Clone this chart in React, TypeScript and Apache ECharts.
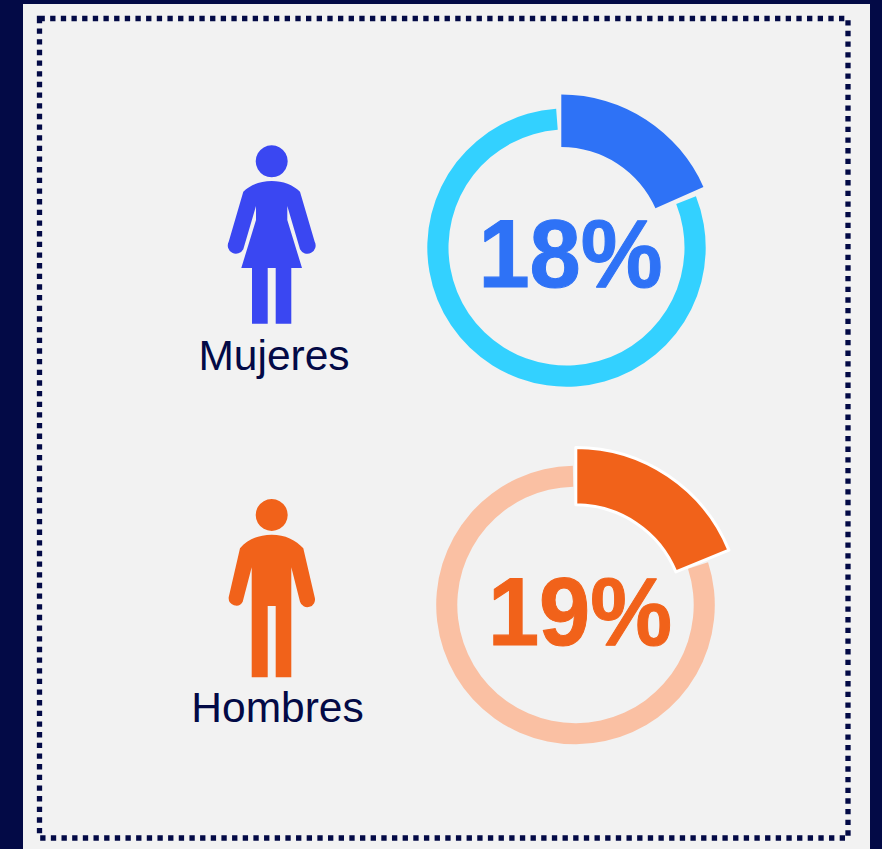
import React, { useEffect, useRef } from "react";
import * as echarts from "echarts";

const categories = ["Mujeres", "Hombres"];
const womenValues = [18.35, 81.65];
const ringWomenValues = [18, 82];
const menValues = [18.8, 81.2];
const ringMenValues = [19, 81];
const percentLabels = ["18%", "19%"];

const NAVY = "#030a46";
const PANEL = "#f2f2f2";
const BLUE = "#2e72f6";
const SKY = "#33d1ff";
const INDIGO = "#3a47f2";
const ORANGE = "#f1621a";
const PEACH = "#fac0a3";

const womanPath =
  "M271.7 181 C260 181 250 185 243.3 191.7 L228.7 241.7 A8 8 0 0 0 243.3 249.3 L256 206 L256 220 L241.3 268 L252 268 L252 323.7 L267.7 323.7 L267.7 268 L275.7 268 L275.7 323.7 L291.3 323.7 L291.3 268 L302 268 L287.3 220 L287.3 206 L300 249.3 A8 8 0 0 0 314.7 241.7 L300 191.7 C293 185 283 181 271.7 181 Z";
const manPath =
  "M271.7 534.7 C258 534.7 247 540 240 548.3 L228.7 597.3 A7.5 7.5 0 0 0 242.7 601.7 L251.7 567.3 L251.7 677.3 L267.7 677.3 L267.7 606 L275.7 606 L275.7 677.3 L291.3 677.3 L291.3 567.3 L300 601.7 A7.5 7.5 0 0 0 314.7 597.3 L303.3 548.3 C296 540 285 534.7 271.7 534.7 Z";

echarts.graphic.registerShape("woman", echarts.graphic.extendPath(womanPath, {}));
echarts.graphic.registerShape("man", echarts.graphic.extendPath(manPath, {}));

const toData = (values: number[], colors: string[]) =>
  values.map((value, i) => ({ value, itemStyle: { color: colors[i] } }));

export default function App() {
  const ref = useRef<HTMLDivElement>(null);
  useEffect(() => {
    const chart = echarts.init(ref.current!, null, { renderer: "svg" });
    const base = { type: "pie", silent: true, label: { show: false }, labelLine: { show: false }, clockwise: true };
    const font = "'Liberation Sans', Arial, sans-serif";
    chart.setOption({
      animation: false,
      backgroundColor: NAVY,
      graphic: [
        { type: "rect", z: 0, shape: { x: 23, y: 4, width: 847, height: 845 }, style: { fill: PANEL } },
        { type: "rect", z: 1, shape: { x: 39.5, y: 18.5, width: 808.5, height: 819.5 }, style: { fill: "none", stroke: NAVY, lineWidth: 5.3, lineDash: [5.33, 5.33] } },
        { type: "circle", z: 5, shape: { cx: 271.7, cy: 161.3, r: 16 }, style: { fill: INDIGO } },
        { type: "woman", z: 5, x: 0, y: 0, style: { fill: INDIGO } },
        { type: "circle", z: 5, shape: { cx: 271.7, cy: 515, r: 16 }, style: { fill: ORANGE } },
        { type: "man", z: 5, x: 0, y: 0, style: { fill: ORANGE } },
        { type: "text", z: 6, x: 274, y: 355, style: { text: categories[0], fill: NAVY, font: `42.5px ${font}`, textAlign: "center", textVerticalAlign: "middle" } },
        { type: "text", z: 6, x: 277.5, y: 707, style: { text: categories[1], fill: NAVY, font: `42.5px ${font}`, textAlign: "center", textVerticalAlign: "middle" } },
        { type: "text", z: 6, x: 570.5, y: 253.5, scaleY: 1.04, style: { text: percentLabels[0], fill: BLUE, stroke: BLUE, lineWidth: 1, font: `bold 92px ${font}`, textAlign: "center", textVerticalAlign: "middle" } },
        { type: "text", z: 6, x: 580, y: 612, scaleY: 1.04, style: { text: percentLabels[1], fill: ORANGE, stroke: ORANGE, lineWidth: 1, font: `bold 92px ${font}`, textAlign: "center", textVerticalAlign: "middle" } },
      ],
      series: [
        { ...base, center: [566.5, 247.5], radius: [118, 139.2], startAngle: 90.33, padAngle: 7.86, data: toData(ringWomenValues, ["transparent", SKY]) },
        { ...base, center: [561.3, 250], radius: [103, 155.5], startAngle: 90, data: toData(womenValues, [BLUE, "transparent"]) },
        { ...base, center: [575.5, 605], radius: [118.2, 139.3], startAngle: 88.7, padAngle: 4.8, data: toData(ringMenValues, ["transparent", PEACH]) },
        {
          ...base,
          center: [575.8, 613],
          radius: [108.2, 165.5],
          startAngle: 90,
          data: [
            { value: menValues[0], itemStyle: { color: ORANGE, borderColor: "#ffffff", borderWidth: 3 } },
            { value: menValues[1], itemStyle: { color: "transparent", borderWidth: 0 } },
          ],
        },
      ],
    });
    return () => chart.dispose();
  }, []);
  return <div ref={ref} style={{ position: "fixed", left: 0, top: 0, width: 882, height: 849 }} />;
}
